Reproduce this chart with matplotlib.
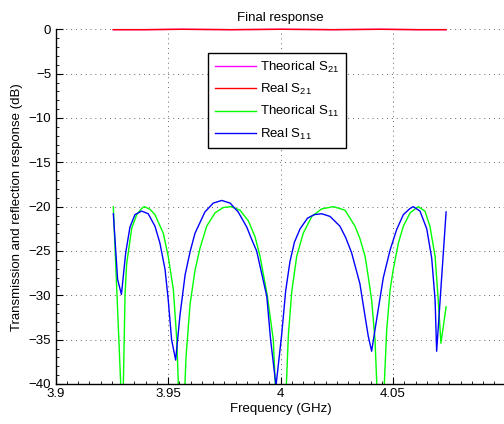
import matplotlib
matplotlib.use("Agg")
import matplotlib.pyplot as plt
from matplotlib.ticker import MultipleLocator

plt.rcParams['font.family'] = ['Liberation Sans', 'DejaVu Sans']

# ---------------- data ----------------
freq_s21 = [3.9257, 3.9395, 3.9560, 3.9780, 4.0002, 4.0235, 4.0444, 4.0612, 4.0736]
theo_s21 = [-0.04, -0.04, 0.0, -0.04, 0.0, -0.04, 0.0, -0.04, -0.04]
real_s21 = [-0.04, -0.04, 0.0, -0.04, 0.0, -0.04, 0.0, -0.04, -0.04]

freq_theo = [3.9257, 3.9298, 3.9309, 3.9316, 3.9339, 3.9361, 3.9383, 3.9395, 3.9420,
             3.9442, 3.9479, 3.9501, 3.9524, 3.9539, 3.9560, 3.9580, 3.9598, 3.9620,
             3.9642, 3.9672, 3.9709, 3.9746, 3.9780, 3.9820, 3.9857, 3.9887, 3.9909,
             3.9941, 3.9968, 4.0002, 4.0035, 4.0050, 4.0072, 4.0101, 4.0139, 4.0183,
             4.0235, 4.0287, 4.0331, 4.0353, 4.0376, 4.0390, 4.0405, 4.0420, 4.0444,
             4.0472, 4.0487, 4.0501, 4.0524, 4.0546, 4.0576, 4.0612, 4.0642, 4.0664,
             4.0687, 4.0701, 4.0713, 4.0736]
theo_s11 = [-20.0, -45.0, -30.0, -26.5, -22.4, -20.9, -20.2, -20.0, -20.3,
            -20.9, -23.0, -25.6, -29.4, -35.0, -50.0, -37.0, -31.0, -27.2,
            -24.7, -22.2, -20.7, -20.1, -20.0, -20.4, -21.6, -23.4, -25.6,
            -30.0, -35.0, -55.0, -34.5, -29.6, -25.6, -23.0, -21.1, -20.25,
            -20.0, -20.4, -22.2, -23.6, -25.6, -27.9, -30.5, -35.0, -50.0,
            -33.9, -29.4, -27.1, -24.1, -22.2, -20.7, -20.0, -20.5, -22.2,
            -25.6, -30.5, -35.4, -31.3]

freq_real = [3.9257, 3.9276, 3.9293, 3.9312, 3.9331, 3.9353, 3.9383, 3.9412, 3.9442,
             3.9464, 3.9487, 3.9501, 3.9516, 3.9534, 3.9553, 3.9576, 3.9598, 3.9620,
             3.9642, 3.9664, 3.9701, 3.9739, 3.9776, 3.9812, 3.9850, 3.9872, 3.9894,
             3.9916, 3.9939, 3.9956, 3.9980, 4.0005, 4.0023, 4.0042, 4.0062, 4.0087,
             4.0120, 4.0150, 4.0183, 4.0220, 4.0264, 4.0290, 4.0316, 4.0353, 4.0376,
             4.0390, 4.0405, 4.0428, 4.0457, 4.0487, 4.0516, 4.0546, 4.0576, 4.0590,
             4.0620, 4.0650, 4.0672, 4.0687, 4.0694, 4.0736]
real_s11 = [-20.8, -28.2, -29.9, -25.2, -22.3, -20.9, -20.5, -20.8, -22.2,
            -24.1, -27.1, -30.5, -35.0, -37.3, -32.3, -27.7, -25.1, -23.0,
            -21.8, -20.6, -19.6, -19.3, -19.6, -20.6, -22.3, -23.7, -25.0,
            -27.5, -30.1, -35.0, -40.2, -34.5, -29.5, -26.2, -24.0, -22.5,
            -21.3, -20.9, -20.8, -21.1, -22.2, -23.5, -25.2, -28.7, -32.4,
            -34.6, -36.3, -32.6, -28.0, -24.9, -22.6, -20.9, -20.2, -20.0,
            -20.5, -22.5, -25.8, -30.5, -36.3, -20.6]

labels = [r'Theorical S$_\mathregular{21}$', r'Real S$_\mathregular{21}$',
          r'Theorical S$_\mathregular{11}$', r'Real S$_\mathregular{11}$']
x_ticks = [3.9, 3.95, 4.0, 4.05]
x_ticklabels = ['3.9', '3.95', '4', '4.05']
y_ticks = [0, -5, -10, -15, -20, -25, -30, -35, -40]

# ---------------- figure ----------------
fig = plt.figure(figsize=(5.04, 4.24), dpi=100)
ax = fig.add_axes([55.5 / 504, 40 / 424, 450 / 504, 354.7 / 424])

lw = 1.0
ax.plot(freq_s21, theo_s21, color='#ff00ff', lw=lw, label=labels[0], clip_on=False)
ax.plot(freq_s21, real_s21, color='#ff0000', lw=lw, label=labels[1], clip_on=False)
ax.plot(freq_theo, theo_s11, color='#00ff00', lw=lw, label=labels[2])
ax.plot(freq_real, real_s11, color='#0000ff', lw=lw, label=labels[3])

ax.set_xlim(3.9, 4.1)
ax.set_ylim(-40, 0)
ax.set_xticks(x_ticks)
ax.set_xticklabels(x_ticklabels)
ax.set_yticks(y_ticks)
ax.xaxis.set_minor_locator(MultipleLocator(0.005))
ax.yaxis.set_minor_locator(MultipleLocator(1))

for s in ['top', 'right']:
    ax.spines[s].set_visible(False)
for s in ['left', 'bottom']:
    ax.spines[s].set_linewidth(1.0)
    ax.spines[s].set_color('black')

ax.tick_params(which='major', direction='in', length=5, width=0.8,
               labelsize=9.5, colors='black', pad=3)
ax.tick_params(which='minor', direction='in', length=2.5, width=0.6)

ax.grid(True, which='major', linestyle=(0, (1, 4)), color='#666666', linewidth=0.7)
ax.set_axisbelow(True)

ax.set_title('Final response', fontsize=9.5, pad=6)
ax.set_xlabel('Frequency (GHz)', fontsize=9.5, labelpad=2)
ax.set_ylabel('Transmission and reflection response (dB)', fontsize=9.5, labelpad=4)

leg = ax.legend(loc='upper left', bbox_to_anchor=(208 / 504, 1 - 53 / 424),
                bbox_transform=fig.transFigure, borderaxespad=0,
                fontsize=9.5, fancybox=False, framealpha=1, edgecolor='black',
                handlelength=3.1, handletextpad=0.35, labelspacing=0.55,
                borderpad=0.5)
leg.get_frame().set_linewidth(1.0)

fig.savefig('out.png', dpi=100)
